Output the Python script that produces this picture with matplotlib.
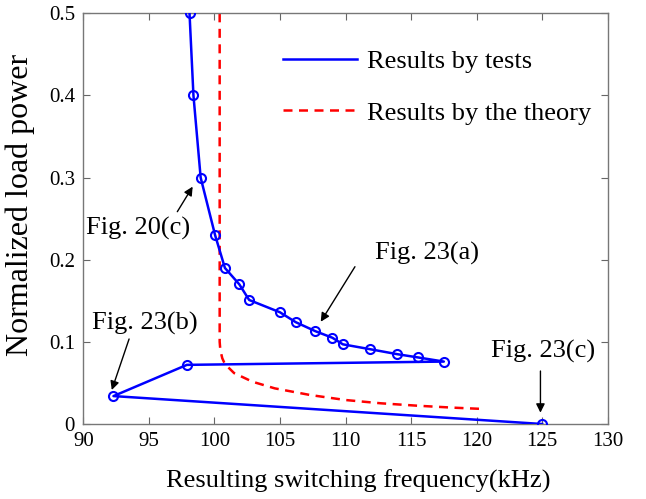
import matplotlib
matplotlib.use("Agg")
import matplotlib.pyplot as plt
from matplotlib.lines import Line2D

plt.rcParams['font.family'] = ['Liberation Serif', 'DejaVu Serif']

# Measured operating points (switching frequency in kHz, normalized load power)
test_freq = [98.1, 98.4, 98.95, 100.05, 100.8, 101.9, 102.65, 105.0, 106.2,
             107.7, 109.0, 109.8, 111.9, 113.95, 115.55, 117.5,
             97.9, 92.3, 125.0]
test_power = [0.5, 0.4, 0.3, 0.23, 0.19, 0.17, 0.151, 0.136, 0.124,
              0.113, 0.105, 0.097, 0.091, 0.085, 0.081, 0.076,
              0.072, 0.034, 0.0]

# Theoretical characteristic
theory_freq = [100.4, 100.4, 100.45, 100.6, 100.8, 101.5, 102.9, 104.6,
               107.3, 110.0, 112.7, 115.45, 118.2, 120.5]
theory_power = [0.5, 0.1, 0.09, 0.08, 0.073, 0.062, 0.0515, 0.0434,
                0.0353, 0.0292, 0.0252, 0.0223, 0.0199, 0.0183]

x_ticks = [90, 95, 100, 105, 110, 115, 120, 125, 130]
y_ticks = [0, 0.1, 0.2, 0.3, 0.4, 0.5]
y_tick_labels = ['0', '0.1', '0.2', '0.3', '0.4', '0.5']

# Callouts: label, text position, arrow start, arrow tip
callouts = [
    ('Fig. 20(c)', (94.2, 0.238), (97.17, 0.2585), (98.34, 0.289)),
    ('Fig. 23(a)', (116.2, 0.208), (110.72, 0.1915), (108.11, 0.1245)),
    ('Fig. 23(b)', (94.7, 0.123), (93.49, 0.1035), (92.17, 0.0414)),
    ('Fig. 23(c)', (125.1, 0.088), (124.87, 0.0645), (124.87, 0.0138)),
]

BLUE = '#0000ff'
RED = '#ff0000'
DASH = (0, (3.6, 2.6))

fig = plt.figure(figsize=(6.46, 4.99), dpi=100)
ax = fig.add_axes([0.129, 0.1503, 0.8117, 0.823])

ax.plot(test_freq, test_power, color=BLUE, lw=1.8, marker='o',
        markersize=6.5, markerfacecolor='none', markeredgewidth=1.5,
        zorder=3)
ax.plot(theory_freq, theory_power, color=RED, lw=1.8, linestyle=DASH,
        zorder=2)

for text, tpos, start, tip in callouts:
    ax.text(tpos[0], tpos[1], text, fontsize=19, ha='center', va='center')
    ax.annotate('', xy=tip, xytext=start,
                arrowprops=dict(arrowstyle='-|>', color='black', lw=1.0,
                                mutation_scale=13, shrinkA=0, shrinkB=0))

ax.set_xlim(90, 130)
ax.set_ylim(0, 0.5)
ax.set_xticks(x_ticks)
ax.set_yticks(y_ticks)
ax.set_yticklabels(y_tick_labels)
ax.tick_params(direction='in', top=True, right=True, length=5,
               labelsize=15, color='#666666', pad=6)
for spine in ax.spines.values():
    spine.set_color('#777777')
    spine.set_linewidth(1.0)

ax.set_xlabel('Resulting switching frequency(kHz)', fontsize=19)
ax.xaxis.set_label_coords(0.524, -0.11)
ax.set_ylabel('Normalized load power', fontsize=23)
ax.yaxis.set_label_coords(-0.092, 0.533)

handles = [Line2D([], [], color=BLUE, lw=1.8),
           Line2D([], [], color=RED, lw=1.8, linestyle=DASH)]
labels = ['Results by tests', 'Results by the theory']
ax.legend(handles, labels, loc='upper left', bbox_to_anchor=(0.381, 0.911),
          frameon=False, fontsize=19, handlelength=2.8, labelspacing=1.05,
          handletextpad=0.38, borderpad=0, borderaxespad=0)

fig.savefig('out.png', dpi=100)
